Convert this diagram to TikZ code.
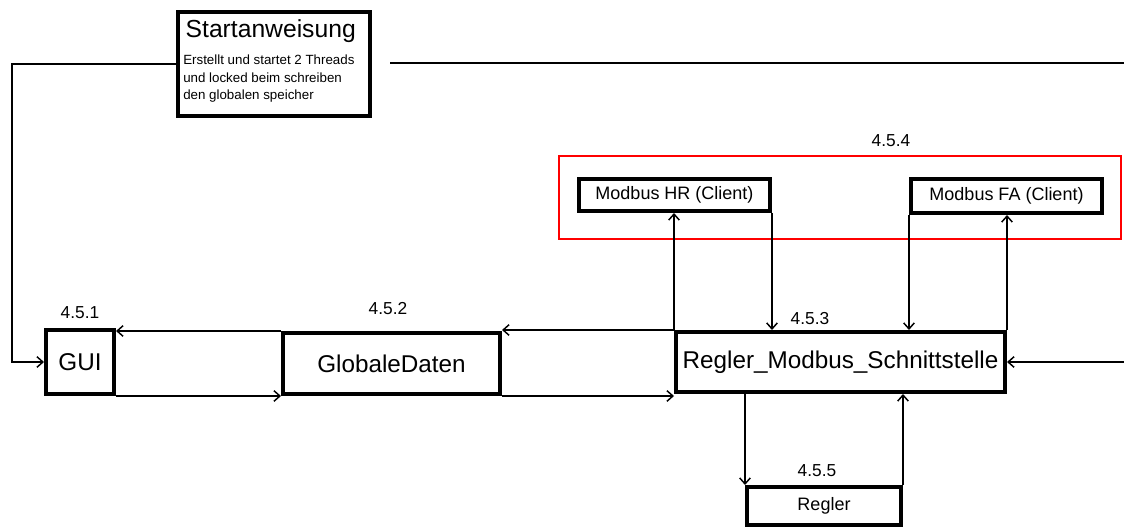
\documentclass[tikz,border=0pt]{standalone}
\usepackage{fontspec}
\setmainfont{Liberation Sans}
\usetikzlibrary{positioning,arrows.meta}

\tikzset{
	box/.style={draw, line width=3pt, inner sep=0pt, font=\fontsize{18.2}{21}\selectfont},
	smallbox/.style={box, font=\fontsize{13.5}{16}\selectfont},
	flow/.style={line width=1.1pt, -{Straight Barb[length=4.5pt,width=8pt,line width=1.1pt]}},
	num/.style={font=\fontsize{13}{15}\selectfont},
}

\begin{document}
\begin{tikzpicture}[x=0.75pt, y=-0.75pt]
	\useasboundingbox (0,0) rectangle (1124,527);
%
	\node[box, minimum width=144pt, minimum height=78pt] (start) at (274,64) {};
	\node[anchor=west, font=\fontsize{18.5}{22}\selectfont] (title) at (181,31) {Startanweisung};
	\node[anchor=north west, align=left, inner sep=0pt, font=\fontsize{10}{13.1}\selectfont] (info) at (183,55)
		{Erstellt und startet 2 Threads\\und locked beim schreiben\\den globalen speicher};
%
	\node[box, minimum width=51pt, minimum height=48pt] (gui) at (80,362) {GUI};
	\node[box, minimum width=162.75pt, minimum height=45.75pt] (glob) at (391.5,363.5) {GlobaleDaten};
	\node[box, minimum width=246.75pt, minimum height=45pt] (rms) at (840.5,362) {Regler\_Modbus\_Schnittstelle};
	\node[smallbox, minimum width=143.25pt, minimum height=24pt] (hr) at (674.5,195) {Modbus HR (Client)};
	\node[smallbox, minimum width=143.25pt, minimum height=25.5pt] (fa) at (1006.5,196) {Modbus FA (Client)};
	\node[smallbox, minimum width=115.5pt, minimum height=28.5pt] (reg) at (824,506) {Regler};
	\node[draw=red, line width=1.1pt, minimum width=421.5pt, minimum height=62pt] (clients) at (840,197.5) {};
%
	\node[num] (n1) at (80,313) {4.5.1};
	\node[num] (n2) at (388,309) {4.5.2};
	\node[num] (n3) at (810,319) {4.5.3};
	\node[num] (n4) at (891,141) {4.5.4};
	\node[num] (n5) at (817,471) {4.5.5};
%
	\coordinate (lft) at (12,362);
	\coordinate (tl) at (390,63);
	\coordinate (tr) at (1124,63);
	\coordinate (rin) at (1124,362);
%
	\draw[flow] (start.west) -| (lft) -- (gui.west);
	\draw[line width=1.1pt] (tl) -- (tr);
	\draw[flow] (rin) -- (rms.east);
%
	\draw[flow] (glob.north west) -- (glob.north west -| gui.east);
	\draw[flow] (gui.south east) -- (gui.south east -| glob.west);
	\draw[flow] (rms.north west) -- (rms.north west -| glob.east);
	\draw[flow] (glob.south east) -- (glob.south east -| rms.west);
%
	\draw[flow] (rms.north west) -- (rms.north west |- hr.south);
	\draw[flow] (hr.south east) -- (hr.south east |- rms.north);
	\draw[flow] (fa.south west) -- (fa.south west |- rms.north);
	\draw[flow] (rms.north east) -- (rms.north east |- fa.south);
%
	\draw[flow] (rms.south -| reg.north west) -- (reg.north west);
	\draw[flow] (reg.north east) -- (reg.north east |- rms.south);
\end{tikzpicture}
\end{document}
